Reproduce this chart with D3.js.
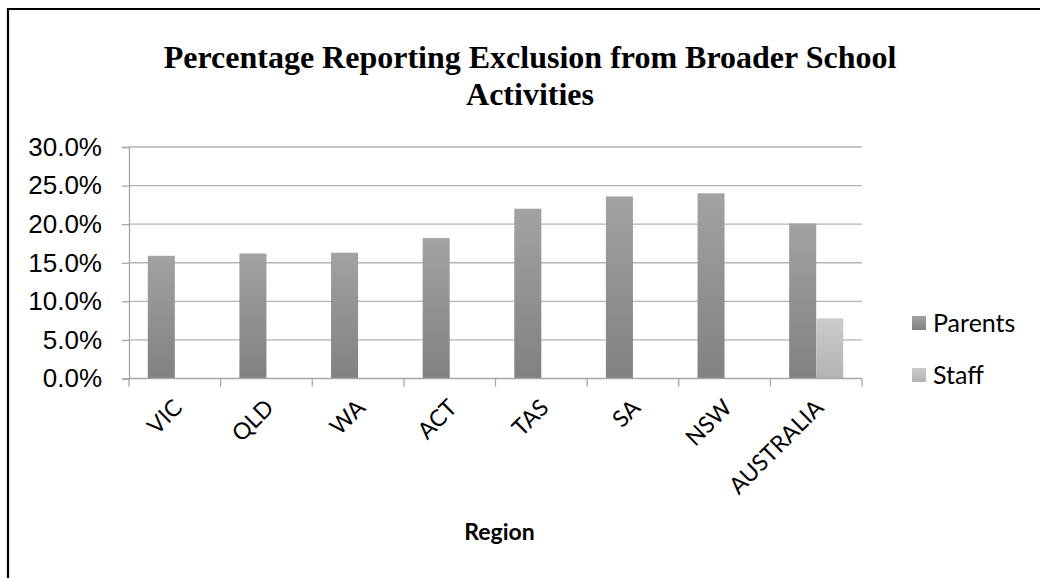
<!DOCTYPE html>
<html>
<head>
<meta charset="utf-8">
<script src="https://cdn.jsdelivr.net/npm/d3@7"></script>
<style>
  html, body { margin: 0; padding: 0; background: #fff; }
  svg { display: block; }
</style>
</head>
<body>
<svg id="chart" width="1040" height="578"></svg>
<script>
// ---- data ----
const categories = ["VIC", "QLD", "WA", "ACT", "TAS", "SA", "NSW", "AUSTRALIA"];
const seriesNames = ["Parents", "Staff"];
const parentsValues = [0.159, 0.162, 0.163, 0.182, 0.220, 0.236, 0.240, 0.201];
const staffValues = [null, null, null, null, null, null, null, 0.078];
const yTicks = [0, 0.05, 0.10, 0.15, 0.20, 0.25, 0.30];
const titleLines = ["Percentage Reporting Exclusion from Broader School", "Activities"];
const xAxisTitle = "Region";

const svg = d3.select("#chart");
const W = 1040, H = 578;

// gradients
const defs = svg.append("defs");
function grad(id, top, bottom) {
  const g = defs.append("linearGradient").attr("id", id)
    .attr("x1", 0).attr("y1", 0).attr("x2", 0).attr("y2", 1);
  g.append("stop").attr("offset", "0%").attr("stop-color", top);
  g.append("stop").attr("offset", "100%").attr("stop-color", bottom);
}
grad("gParents", "#a2a2a2", "#818181");
grad("gStaff", "#cbcbcb", "#b3b3b3");
const fills = { Parents: "url(#gParents)", Staff: "url(#gStaff)" };

// chart border (cropped at right and bottom)
svg.append("path")
  .attr("d", `M8,${H + 2} L8,9 L${W + 2},9`)
  .attr("fill", "none").attr("stroke", "#000").attr("stroke-width", 2.2);

// title
const title = svg.append("text")
  .attr("text-anchor", "middle")
  .attr("font-family", "'Liberation Serif', 'Times New Roman', serif")
  .attr("font-weight", "bold")
  .attr("font-size", 32)
  .attr("fill", "#000");
titleLines.forEach((t, i) => {
  title.append("tspan").attr("x", 530).attr("y", 68 + i * 37).text(t);
});

// scales
const plot = { left: 129, right: 862, top: 147, bottom: 378.5 };
const x = d3.scaleBand().domain(categories).range([plot.left, plot.right]).paddingInner(0).paddingOuter(0);
const y = d3.scaleLinear().domain([0, 0.30]).range([plot.bottom, plot.top]);
const barW = x.bandwidth() * 0.295;
const xs = d3.scaleBand().domain(seriesNames).range([0, barW * 2]);

// gridlines
svg.append("g").selectAll("line").data(yTicks.filter(d => d > 0)).join("line")
  .attr("x1", plot.left).attr("x2", plot.right)
  .attr("y1", d => y(d)).attr("y2", d => y(d))
  .attr("stroke", "#b3b3b3").attr("stroke-width", 1.3);

// y axis
const yAxis = svg.append("g").attr("transform", `translate(${plot.left},0)`)
  .call(d3.axisLeft(y).tickValues(yTicks).tickFormat(d3.format(".1%")).tickSize(7).tickPadding(20));
yAxis.select(".domain").attr("stroke", "#a6a6a6").attr("stroke-width", 1.3);
yAxis.selectAll(".tick line").attr("stroke", "#a6a6a6").attr("stroke-width", 1.3);
yAxis.selectAll(".tick text")
  .attr("font-family", "'Liberation Sans', Arial, sans-serif")
  .attr("font-size", 26).attr("fill", "#000");

// bars
const rows = categories.map((c, i) => ({ cat: c, Parents: parentsValues[i], Staff: staffValues[i] }));
const groups = svg.append("g").selectAll("g").data(rows).join("g")
  .attr("transform", d => `translate(${x(d.cat) + (x.bandwidth() - barW * 2) / 2},0)`);
groups.selectAll("rect")
  .data(d => seriesNames.filter(s => d[s] != null).map(s => ({ s, v: d[s] })))
  .join("rect")
  .attr("x", d => xs(d.s))
  .attr("width", xs.bandwidth())
  .attr("y", d => y(d.v))
  .attr("height", d => y(0) - y(d.v))
  .attr("fill", d => fills[d.s]);

// x axis
const xAxisG = svg.append("g").attr("transform", `translate(0,${plot.bottom})`);
xAxisG.append("line").attr("x1", plot.left).attr("x2", plot.right)
  .attr("stroke", "#a6a6a6").attr("stroke-width", 1.3);
const bounds = categories.map(c => x(c)).concat([plot.right]);
xAxisG.selectAll("line.tk").data(bounds).join("line").attr("class", "tk")
  .attr("x1", d => d).attr("x2", d => d).attr("y1", 0).attr("y2", 8)
  .attr("stroke", "#a6a6a6").attr("stroke-width", 1.3);
xAxisG.selectAll("text").data(categories).join("text")
  .attr("transform", d => `translate(${x(d) + x.bandwidth() / 2 + 3},${25}) rotate(-45)`)
  .attr("text-anchor", "end")
  .attr("dy", "0.35em")
  .attr("font-family", "Lato, 'Open Sans', sans-serif")
  .attr("font-size", 23)
  .attr("fill", "#000")
  .text(d => d);

// x axis title
svg.append("text")
  .attr("x", (plot.left + plot.right) / 2 + 4).attr("y", 540)
  .attr("text-anchor", "middle")
  .attr("font-family", "Lato, 'Open Sans', sans-serif")
  .attr("font-weight", "bold").attr("font-size", 23).attr("fill", "#000")
  .text(xAxisTitle);

// legend
const legend = svg.append("g").selectAll("g").data(seriesNames).join("g")
  .attr("transform", (d, i) => `translate(912,${316 + i * 52})`);
legend.append("rect").attr("width", 14).attr("height", 14).attr("fill", d => fills[d]);
legend.append("text").attr("x", 21).attr("y", 7).attr("dy", "0.36em")
  .attr("font-family", "Lato, 'Open Sans', sans-serif")
  .attr("font-size", 25).attr("fill", "#000")
  .text(d => d);
</script>
</body>
</html>
